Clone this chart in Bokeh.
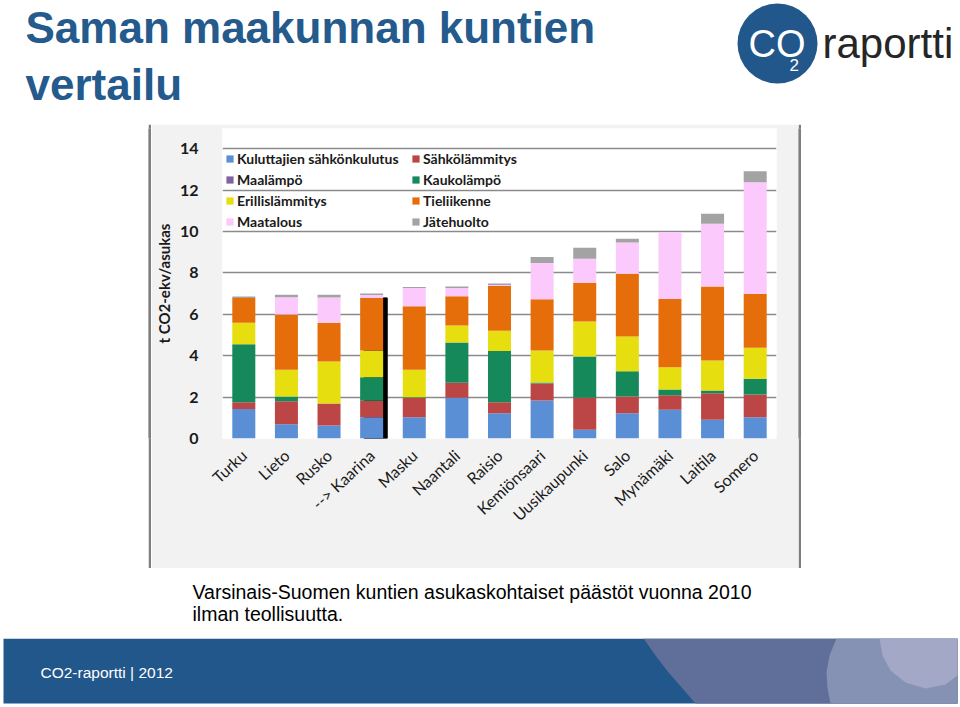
import numpy as np
from bokeh.plotting import figure
from bokeh.layouts import column, row
from bokeh.models import (Range1d, FactorRange, FixedTicker, Legend, LegendItem,
                          ColumnDataSource, Spacer)
from bokeh.transform import dodge
from bokeh.core.properties import value
from bokeh.embed import file_html
from bokeh.resources import INLINE

# ---------------- data ----------------
municipalities = ["Turku", "Lieto", "Rusko", "--> Kaarina", "Masku", "Naantali", "Raisio",
                  "Kemiönsaari", "Uusikaupunki", "Salo", "Mynämäki", "Laitila", "Somero"]
series_names = ["Kuluttajien sähkönkulutus", "Sähkölämmitys", "Maalämpö", "Kaukolämpö",
                "Erillislämmitys", "Tieliikenne", "Maatalous", "Jätehuolto"]
sahkonkulutus   = [1.43, 0.69, 0.63, 1.03, 1.03, 1.97, 1.22, 1.83, 0.42, 1.22, 1.39, 0.90, 1.03]
sahkolammitys   = [0.32, 1.11, 1.06, 0.79, 0.92, 0.72, 0.53, 0.83, 1.55, 0.81, 0.70, 1.29, 1.09]
maalampo        = [0.00, 0.00, 0.00, 0.00, 0.00, 0.00, 0.00, 0.00, 0.00, 0.00, 0.00, 0.00, 0.00]
kaukolampo      = [2.80, 0.23, 0.00, 1.14, 0.04, 1.95, 2.48, 0.04, 1.99, 1.22, 0.28, 0.13, 0.76]
erillislammitys = [1.04, 1.29, 2.03, 1.29, 1.33, 0.82, 0.97, 1.55, 1.69, 1.68, 1.07, 1.45, 1.50]
tieliikenne     = [1.20, 2.67, 1.87, 2.54, 3.07, 1.41, 2.16, 2.48, 1.87, 3.02, 3.30, 3.57, 2.61]
maatalous       = [0.00, 0.83, 1.22, 0.14, 0.88, 0.40, 0.05, 1.75, 1.16, 1.51, 3.22, 3.03, 5.39]
jatehuolto      = [0.07, 0.12, 0.13, 0.07, 0.05, 0.07, 0.07, 0.28, 0.53, 0.18, 0.00, 0.48, 0.53]
y_ticks = [0, 2, 4, 6, 8, 10, 12, 14]
highlighted = "--> Kaarina"

title_lines = ["Saman maakunnan kuntien", "vertailu"]
caption_lines = ["Varsinais-Suomen kuntien asukaskohtaiset päästöt vuonna 2010", "ilman teollisuutta."]
footer_text = "CO2-raportti | 2012"

colors = ["#5A8FD6", "#BC4646", "#8064A2", "#16895A", "#E6DE0E", "#E56E0B", "#FBC9FB", "#A3A3A3"]
TITLE_BLUE = "#245A8C"
BAND_BLUE = "#21578A"
BOX_LINE = "#7F7F7F"

W = 960


def deco(height, y0, width=W, x0=0, bg="white"):
    """Plain drawing surface whose data units equal page pixels (y downward)."""
    f = figure(width=width, height=height, x_range=Range1d(x0, x0 + width),
               y_range=Range1d(y0 + height, y0),
               output_backend="svg", toolbar_location=None, min_border=0,
               x_axis_location=None, y_axis_location=None, outline_line_color=None)
    f.grid.visible = False
    f.background_fill_color = bg
    f.border_fill_color = bg
    return f


def txt(f, x, baseline, s, size, color, style="normal", font="Liberation Sans"):
    # the rendered alphabetic baseline lands ~0.4 em below the anchor, so compensate
    f.text(x=[x], y=[baseline - 0.4 * size], text=[s], text_font=value(font),
           text_font_size=f"{size}px", text_font_style=style, text_color=color,
           text_align="left", text_baseline="alphabetic")


def strip(width, height):
    f = deco(height, 0, width=width, bg=BOX_LINE)
    f.quad(left=[0], right=[width], top=[0], bottom=[height], fill_color=BOX_LINE, line_color=None)
    return f


# ---------------- header (title + logo) ----------------
header = deco(121, 0)
txt(header, 25, 45, title_lines[0], 44, TITLE_BLUE, "bold")
txt(header, 25, 102, title_lines[1], 44, TITLE_BLUE, "bold")
header.circle(x=[777], y=[43], radius=40, fill_color=BAND_BLUE, line_color=None)
txt(header, 748, 59, "CO", 38, "white")
txt(header, 789, 71, "2", 17, "white")
txt(header, 822, 60, "raportti", 42, "#262626")

# ---------------- chart ----------------
keys = ["s0", "s1", "s2", "s3", "s4", "s5", "s6", "s7"]
data = dict(muni=municipalities)
for k, arr in zip(keys, [sahkonkulutus, sahkolammitys, maalampo, kaukolampo,
                         erillislammitys, tieliikenne, maatalous, jatehuolto]):
    data[k] = arr
source = ColumnDataSource(data)

p = figure(x_range=FactorRange(factors=municipalities), y_range=Range1d(0, 14.97),
           width=647, height=444, output_backend="svg", toolbar_location=None,
           min_border_left=67, min_border_right=22, min_border_top=4, min_border_bottom=130)
p.background_fill_color = "white"
p.border_fill_color = "#F2F2F2"
p.outline_line_color = None

# shadow on highlighted bar
idx = municipalities.index(highlighted)
shadow_top = (sahkonkulutus[idx] + sahkolammitys[idx] + maalampo[idx] + kaukolampo[idx]
              + erillislammitys[idx] + tieliikenne[idx])
shadow_src = ColumnDataSource(dict(muni=[highlighted], top=[shadow_top]))
p.vbar(x=dodge("muni", 0.095, range=p.x_range), top="top", bottom=0, width=0.54,
       color="black", source=shadow_src)

renderers = p.vbar_stack(keys, x="muni", width=0.54, color=colors, line_color=None, source=source)

p.xgrid.visible = False
p.ygrid.ticker = FixedTicker(ticks=y_ticks)
p.ygrid.grid_line_color = "#8A8A8A"
p.ygrid.grid_line_width = 1.3
p.yaxis.ticker = FixedTicker(ticks=y_ticks)
p.yaxis.axis_line_color = None
p.yaxis.major_tick_line_color = None
p.yaxis.minor_tick_line_color = None
p.yaxis.major_label_text_font = "Lato"
p.yaxis.major_label_text_font_style = "bold"
p.yaxis.major_label_text_font_size = "16px"
p.yaxis.major_label_text_color = "#1A1A1A"
p.yaxis.major_label_standoff = 18
p.yaxis.axis_label = "t CO2-ekv/asukas"
p.yaxis.axis_label_text_font = "Lato"
p.yaxis.axis_label_text_font_style = "bold"
p.yaxis.axis_label_text_font_size = "15px"
p.yaxis.axis_label_text_color = "#1A1A1A"
p.yaxis.axis_label_standoff = 4

p.xaxis.axis_line_color = None
p.xaxis.major_tick_line_color = None
p.xaxis.minor_tick_line_color = None
p.xaxis.major_label_orientation = 0.75
p.xaxis.major_label_text_font = "Lato"
p.xaxis.major_label_text_font_size = "16px"
p.xaxis.major_label_text_color = "#1A1A1A"
p.xaxis.major_label_standoff = 8

items = [LegendItem(label=n, renderers=[r]) for n, r in zip(series_names, renderers)]
legend = Legend(items=items, orientation="horizontal", ncols=2, location=(3, 206),
                label_text_font="Lato", label_text_font_style="bold", label_text_font_size="14px",
                label_text_color="#1A1A1A", glyph_width=9, glyph_height=9, label_standoff=3,
                label_height=21, label_width=174, spacing=0, padding=7, margin=0,
                background_fill_alpha=0, border_line_color=None)
p.add_layout(legend)

boxed = column(strip(653, 3),
               row(strip(3, 444), p, strip(3, 444)),
               strip(653, 3))
middle = row(Spacer(width=148, height=450), boxed, Spacer(width=W - 148 - 653, height=450))

# ---------------- caption ----------------
caption = deco(67, 571)
txt(caption, 192, 599, caption_lines[0], 19.5, "black")
txt(caption, 192, 621, caption_lines[1], 19.5, "black")

# ---------------- footer band ----------------
footer = deco(69, 638)
footer.quad(left=[3], right=[957], top=[638], bottom=[703], fill_color=BAND_BLUE, line_color=None)
footer.patch([643, 655, 668, 682, 695, 957, 957], [638, 655, 672, 688, 703, 703, 638],
             fill_color="#5F6F9A", line_color=None)
footer.patch([836, 829, 826, 827, 830, 957, 957], [638, 655, 672, 688, 703, 703, 638],
             fill_color="#8592B3", line_color=None)
footer.patch([879, 882, 890, 905, 925, 945, 957, 957], [638, 655, 670, 682, 688, 684, 675, 638],
             fill_color="#A2A8C6", line_color=None)
txt(footer, 40, 678, footer_text, 15.5, "white")

layout = column(header, middle, caption, footer)

open("out.html", "w").write(file_html(layout, INLINE))
